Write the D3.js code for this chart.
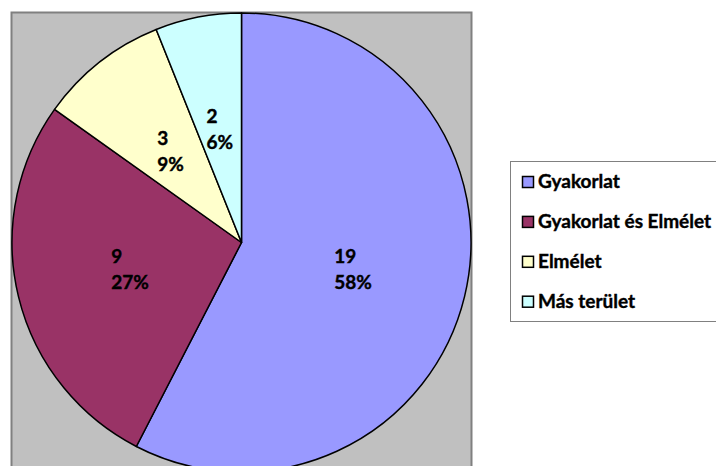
<!DOCTYPE html>
<html>
<head>
<meta charset="utf-8">
<script src="https://cdn.jsdelivr.net/npm/d3@7"></script>
<style>
html, body { margin: 0; padding: 0; background: #ffffff; }
svg { display: block; }
text { font-family: Lato, "Open Sans", "Liberation Sans", sans-serif; font-weight: bold; fill: #000; stroke: #000; stroke-width: 0.4px; }
</style>
</head>
<body>
<svg id="chart" width="716" height="466"></svg>
<script>
const categories = ["Gyakorlat", "Gyakorlat és Elmélet", "Elmélet", "Más terület"];
const values = [19, 9, 3, 2];
const colors = ["#9999FF", "#993366", "#FFFFCC", "#CCFFFF"];

const W = 716, H = 466;
const svg = d3.select("#chart");

// plot area
const plot = { x: 11.5, y: 12.5, w: 460, h: 470 };
svg.append("rect")
  .attr("x", plot.x).attr("y", plot.y)
  .attr("width", plot.w).attr("height", plot.h)
  .attr("fill", "#C0C0C0")
  .attr("stroke", "#808080").attr("stroke-width", 2);

const cx = 241.5, cy = 242.5, R = 229.5;
const total = d3.sum(values);
const data = categories.map((c, i) => ({ cat: c, value: values[i], color: colors[i] }));

const pie = d3.pie().value(d => d.value).sort(null);
const arcs = pie(data);
const arc = d3.arc().innerRadius(0).outerRadius(R);
const labelArc = d3.arc().innerRadius(0).outerRadius(R);

const g = svg.append("g").attr("transform", `translate(${cx},${cy})`);
g.selectAll("path.slice")
  .data(arcs)
  .enter().append("path")
  .attr("class", "slice")
  .attr("d", arc)
  .attr("fill", d => d.data.color)
  .attr("stroke", "#000")
  .attr("stroke-width", 1.5)
  .attr("stroke-linejoin", "round");

const pctFmt = d3.format(".0%");
const fs = 19;
arcs.forEach(a => {
  const [lx, ly] = labelArc.centroid(a);
  const t = g.append("text").attr("font-size", fs);
  const l1 = t.append("tspan").text(a.data.value);
  const l2 = t.append("tspan").text(pctFmt(a.data.value / total));
  const w = Math.max(l1.node().getComputedTextLength(), l2.node().getComputedTextLength());
  const left = lx - w / 2;
  l1.attr("x", left).attr("y", ly - 7);
  l2.attr("x", left).attr("y", ly + 19);
});

// legend
const leg = svg.append("g");
leg.append("rect")
  .attr("x", 510.5).attr("y", 161.5)
  .attr("width", 230).attr("height", 160)
  .attr("fill", "#fff")
  .attr("stroke", "#808080").attr("stroke-width", 1);

const ly = d3.scalePoint().domain(categories).range([188, 307.7]);
const items = leg.selectAll("g.item").data(data).enter().append("g").attr("class", "item");
items.append("rect")
  .attr("x", 522.5).attr("y", d => ly(d.cat) - 11.5)
  .attr("width", 11).attr("height", 11)
  .attr("fill", d => d.color)
  .attr("stroke", "#000").attr("stroke-width", 1.5);
items.append("text")
  .attr("x", 538).attr("y", d => ly(d.cat))
  .attr("font-size", fs)
  .text(d => d.cat);
</script>
</body>
</html>
